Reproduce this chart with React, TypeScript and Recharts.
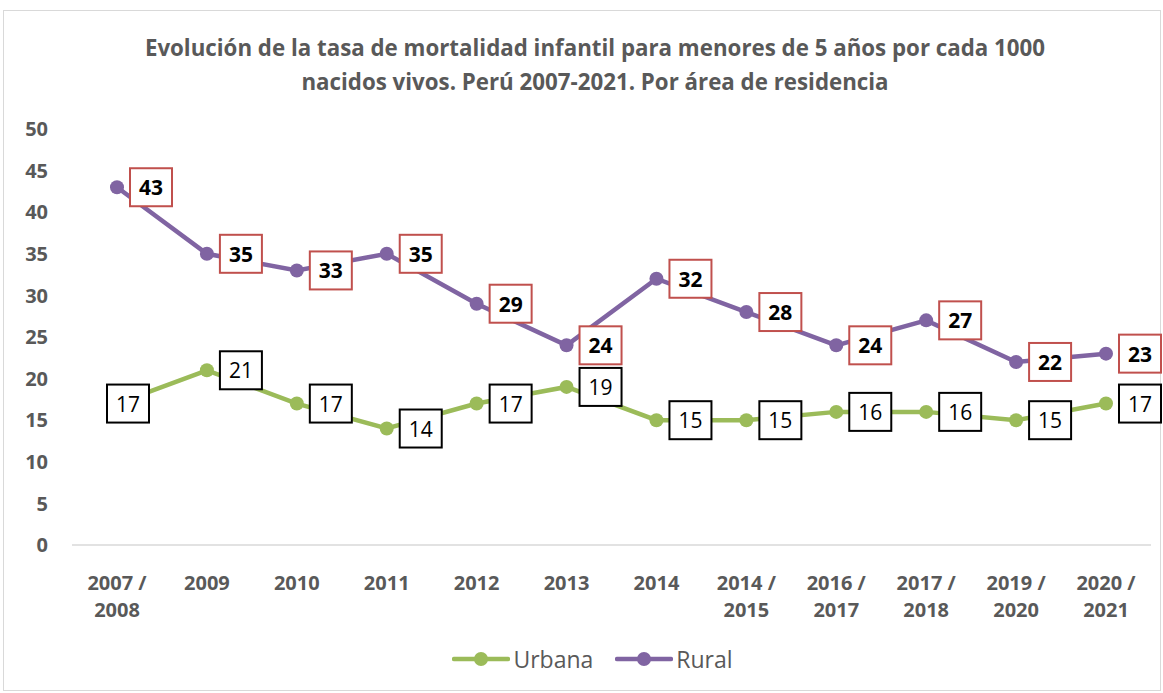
import React from "react";
import { LineChart, Line, XAxis, YAxis, LabelList, Legend } from "recharts";

const categories = ["2007 / 2008", "2009", "2010", "2011", "2012", "2013", "2014", "2014 / 2015", "2016 / 2017", "2017 / 2018", "2019 / 2020", "2020 / 2021"];
const urbana = [17, 21, 17, 14, 17, 19, 15, 15, 16, 16, 15, 17];
const rural = [43, 35, 33, 35, 29, 24, 32, 28, 24, 27, 22, 23];
const yTicks = [0, 5, 10, 15, 20, 25, 30, 35, 40, 45, 50];

const data = categories.map((c, i) => ({ cat: c, Urbana: urbana[i], Rural: rural[i] }));

const GREEN = "#9BBB59";
const PURPLE = "#8064A2";
const GRAY = "#595959";
const FONT = "'Open Sans', sans-serif";

const XTick = (props: any) => {
  const { x, y, payload } = props;
  const parts = String(payload.value).includes(" / ")
    ? [payload.value.split(" / ")[0] + " /", payload.value.split(" / ")[1]]
    : [payload.value];
  return (
    <g>
      {parts.map((p: string, i: number) => (
        <text key={i} x={x} y={y + 37 + i * 27} textAnchor="middle" fontFamily={FONT} fontWeight="bold" fontSize={20} fill={GRAY}>
          {p}
        </text>
      ))}
    </g>
  );
};

const makeLabel = (stroke: string, bold: boolean) => (props: any) => {
  const { x, y, value, index } = props;
  const left = index === 0 && !bold ? x - 10 : x + 13;
  const w = 42;
  const h = 38;
  return (
    <g>
      <rect x={left} y={y - h / 2} width={w} height={h} fill="#fff" stroke={stroke} strokeWidth={2} />
      <text x={left + w / 2} y={y + 8} textAnchor="middle" fontFamily={FONT} fontWeight={bold ? "bold" : "normal"} fontSize={21} fill="#000">
        {value}
      </text>
    </g>
  );
};

const LegendContent = () => (
  <div style={{ display: "flex", justifyContent: "center", alignItems: "center", height: 40, fontFamily: FONT, fontSize: 23, color: GRAY, paddingLeft: 22 }}>
    {[{ n: "Urbana", c: GREEN }, { n: "Rural", c: PURPLE }].map((it, i) => (
      <div key={it.n} style={{ display: "flex", alignItems: "center", marginLeft: i ? 22 : 0 }}>
        <svg width={58} height={20} style={{ marginRight: 3 }}>
          <line x1={2} y1={10} x2={56} y2={10} stroke={it.c} strokeWidth={4.5} strokeLinecap="round" />
          <circle cx={29} cy={10} r={7} fill={it.c} />
        </svg>
        <span>{it.n}</span>
      </div>
    ))}
  </div>
);

export default function App() {
  return (
    <div style={{ position: "absolute", left: 0, top: 0, width: 1163, height: 693, background: "#fff" }}>
      <div style={{ position: "absolute", left: 3, top: 10, width: 1156, height: 679, border: "1px solid #d9d9d9" }} />
      <div style={{ position: "absolute", left: 0, top: 31, width: 1190, textAlign: "center", fontFamily: FONT, fontWeight: "bold", fontSize: 22.3, lineHeight: "34px", color: GRAY }}>
        Evolución de la tasa de mortalidad infantil para menores de 5 años por cada 1000
        <br />
        nacidos vivos. Perú 2007-2021. Por área de residencia
      </div>
      <div style={{ position: "absolute", left: 0, top: 0 }}>
        <LineChart width={1163} height={693} data={data} margin={{ top: 129, right: 12, bottom: 14, left: 12 }}>
          <XAxis dataKey="cat" interval={0} tickLine={false} padding={{ left: 45, right: 45 }} axisLine={{ stroke: "#d9d9d9", strokeWidth: 1.5 }} tick={<XTick />} height={94} />
          <YAxis domain={[0, 50]} ticks={yTicks} width={60} axisLine={false} tickLine={false} interval={0}
            tick={{ fontFamily: FONT, fontWeight: "bold", fontSize: 20, fill: GRAY, dx: -16 }} />
          <Legend verticalAlign="bottom" content={<LegendContent />} />
          <Line dataKey="Urbana" stroke={GREEN} strokeWidth={4.5} dot={{ r: 7, fill: GREEN, stroke: GREEN, strokeWidth: 0 }} isAnimationActive={false}>
            <LabelList dataKey="Urbana" content={makeLabel("#000", false)} />
          </Line>
          <Line dataKey="Rural" stroke={PURPLE} strokeWidth={4.5} dot={{ r: 7, fill: PURPLE, stroke: PURPLE, strokeWidth: 0 }} isAnimationActive={false}>
            <LabelList dataKey="Rural" content={makeLabel("#C0504D", true)} />
          </Line>
        </LineChart>
      </div>
    </div>
  );
}
